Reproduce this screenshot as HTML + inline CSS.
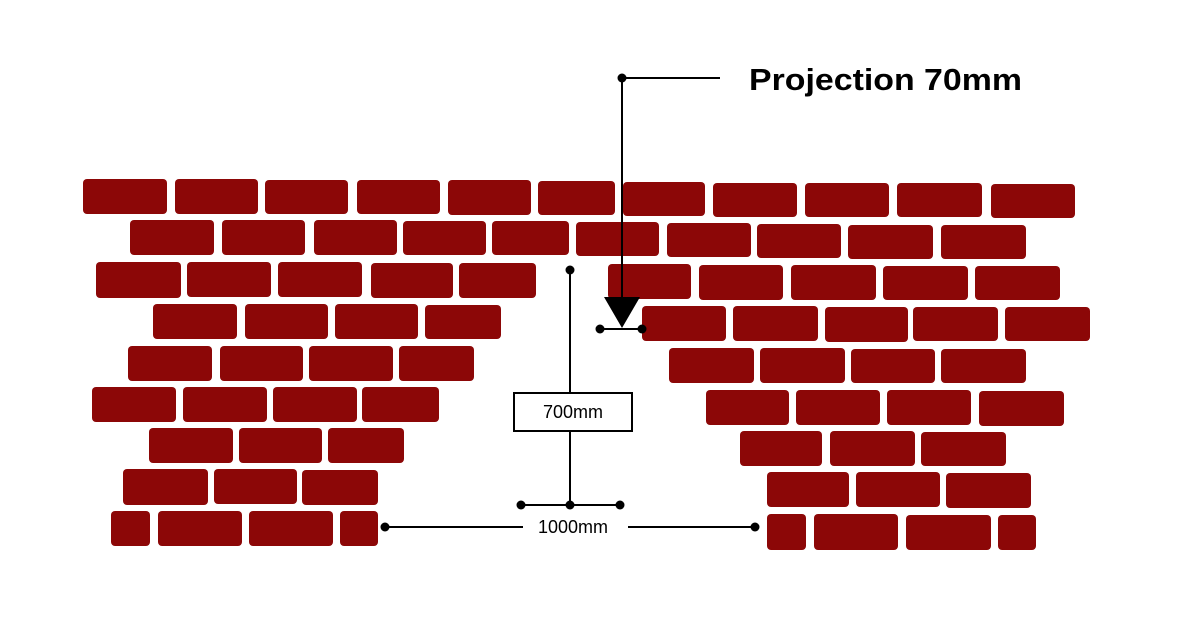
<!DOCTYPE html>
<html><head><style>html,body{margin:0;padding:0;background:#fff;}svg{display:block}</style></head>
<body>
<svg width="1191" height="635" viewBox="0 0 1191 635" xmlns="http://www.w3.org/2000/svg">
<g fill="#8c0707">
<rect x="83" y="179" width="84" height="35" rx="4"/><rect x="175" y="179" width="83" height="35" rx="4"/><rect x="265" y="180" width="83" height="34" rx="4"/><rect x="357" y="180" width="83" height="34" rx="4"/><rect x="448" y="180" width="83" height="35" rx="4"/><rect x="538" y="181" width="77" height="34" rx="4"/><rect x="623" y="182" width="82" height="34" rx="4"/><rect x="713" y="183" width="84" height="34" rx="4"/><rect x="805" y="183" width="84" height="34" rx="4"/><rect x="897" y="183" width="85" height="34" rx="4"/><rect x="991" y="184" width="84" height="34" rx="4"/>
<rect x="130" y="220" width="84" height="35" rx="4"/><rect x="222" y="220" width="83" height="35" rx="4"/><rect x="314" y="220" width="83" height="35" rx="4"/><rect x="403" y="221" width="83" height="34" rx="4"/><rect x="492" y="221" width="77" height="34" rx="4"/><rect x="576" y="222" width="83" height="34" rx="4"/><rect x="667" y="223" width="84" height="34" rx="4"/><rect x="757" y="224" width="84" height="34" rx="4"/><rect x="848" y="225" width="85" height="34" rx="4"/><rect x="941" y="225" width="85" height="34" rx="4"/>
<rect x="96" y="262" width="85" height="36" rx="4"/><rect x="187" y="262" width="84" height="35" rx="4"/><rect x="278" y="262" width="84" height="35" rx="4"/><rect x="371" y="263" width="82" height="35" rx="4"/><rect x="459" y="263" width="77" height="35" rx="4"/>
<rect x="608" y="264" width="83" height="35" rx="4"/><rect x="699" y="265" width="84" height="35" rx="4"/><rect x="791" y="265" width="85" height="35" rx="4"/><rect x="883" y="266" width="85" height="34" rx="4"/><rect x="975" y="266" width="85" height="34" rx="4"/>
<rect x="153" y="304" width="84" height="35" rx="4"/><rect x="245" y="304" width="83" height="35" rx="4"/><rect x="335" y="304" width="83" height="35" rx="4"/><rect x="425" y="305" width="76" height="34" rx="4"/>
<rect x="642" y="306" width="84" height="35" rx="4"/><rect x="733" y="306" width="85" height="35" rx="4"/><rect x="825" y="307" width="83" height="35" rx="4"/><rect x="913" y="307" width="85" height="34" rx="4"/><rect x="1005" y="307" width="85" height="34" rx="4"/>
<rect x="128" y="346" width="84" height="35" rx="4"/><rect x="220" y="346" width="83" height="35" rx="4"/><rect x="309" y="346" width="84" height="35" rx="4"/><rect x="399" y="346" width="75" height="35" rx="4"/>
<rect x="669" y="348" width="85" height="35" rx="4"/><rect x="760" y="348" width="85" height="35" rx="4"/><rect x="851" y="349" width="84" height="34" rx="4"/><rect x="941" y="349" width="85" height="34" rx="4"/>
<rect x="92" y="387" width="84" height="35" rx="4"/><rect x="183" y="387" width="84" height="35" rx="4"/><rect x="273" y="387" width="84" height="35" rx="4"/><rect x="362" y="387" width="77" height="35" rx="4"/>
<rect x="706" y="390" width="83" height="35" rx="4"/><rect x="796" y="390" width="84" height="35" rx="4"/><rect x="887" y="390" width="84" height="35" rx="4"/><rect x="979" y="391" width="85" height="35" rx="4"/>
<rect x="149" y="428" width="84" height="35" rx="4"/><rect x="239" y="428" width="83" height="35" rx="4"/><rect x="328" y="428" width="76" height="35" rx="4"/>
<rect x="740" y="431" width="82" height="35" rx="4"/><rect x="830" y="431" width="85" height="35" rx="4"/><rect x="921" y="432" width="85" height="34" rx="4"/>
<rect x="123" y="469" width="85" height="36" rx="4"/><rect x="214" y="469" width="83" height="35" rx="4"/><rect x="302" y="470" width="76" height="35" rx="4"/>
<rect x="767" y="472" width="82" height="35" rx="4"/><rect x="856" y="472" width="84" height="35" rx="4"/><rect x="946" y="473" width="85" height="35" rx="4"/>
<rect x="111" y="511" width="39" height="35" rx="4"/><rect x="158" y="511" width="84" height="35" rx="4"/><rect x="249" y="511" width="84" height="35" rx="4"/><rect x="340" y="511" width="38" height="35" rx="4"/>
<rect x="767" y="514" width="39" height="36" rx="4"/><rect x="814" y="514" width="84" height="36" rx="4"/><rect x="906" y="515" width="85" height="35" rx="4"/><rect x="998" y="515" width="38" height="35" rx="4"/>
</g>
<g stroke="#000" stroke-width="2" fill="none">
<line x1="622" y1="78" x2="720" y2="78"/>
<line x1="622" y1="78" x2="622" y2="300"/>
<line x1="600" y1="329" x2="642" y2="329"/>
<line x1="570" y1="270" x2="570" y2="393"/>
<line x1="570" y1="431" x2="570" y2="505"/>
<line x1="521" y1="505" x2="620" y2="505"/>
<line x1="385" y1="527" x2="523" y2="527"/>
<line x1="628" y1="527" x2="755" y2="527"/>
<rect x="514" y="393" width="118" height="38" fill="#fff"/>
</g>
<polygon points="604,297 640,297 622,328" fill="#000"/>
<g fill="#000">
<circle cx="622" cy="78" r="4.5"/><circle cx="600" cy="329" r="4.5"/><circle cx="642" cy="329" r="4.5"/>
<circle cx="570" cy="270" r="4.5"/><circle cx="521" cy="505" r="4.5"/><circle cx="570" cy="505" r="4.5"/><circle cx="620" cy="505" r="4.5"/>
<circle cx="385" cy="527" r="4.5"/><circle cx="755" cy="527" r="4.5"/>
</g>
<g font-family="Liberation Sans, sans-serif" fill="#000">
<text x="749" y="90" font-size="31" font-weight="bold" textLength="273" lengthAdjust="spacingAndGlyphs">Projection 70mm</text>
<text x="573" y="418" font-size="18" text-anchor="middle">700mm</text>
<text x="573" y="533" font-size="18" text-anchor="middle">1000mm</text>
</g>
</svg>
</body></html>
